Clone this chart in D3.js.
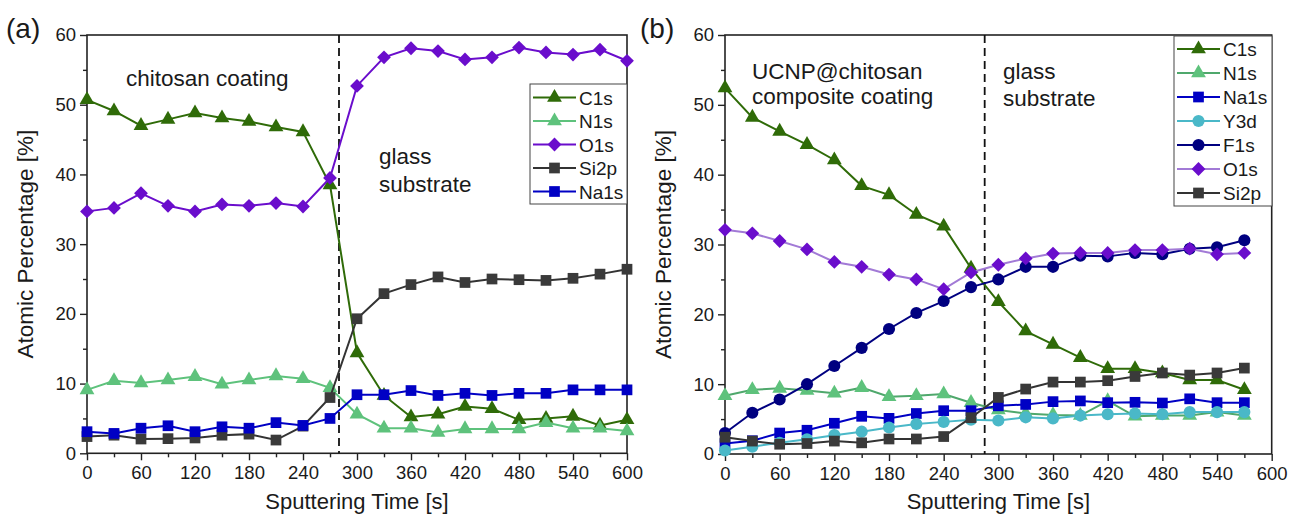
<!DOCTYPE html>
<html><head><meta charset="utf-8">
<script src="https://cdn.jsdelivr.net/npm/d3@7"></script>
<style>
html,body{margin:0;padding:0;background:#fff;}
svg text{font-family:"Liberation Sans",Arial,sans-serif;fill:#1a1a1a;}
</style></head>
<body><svg id="c" width="1289" height="515"></svg>
<script>
// ---------- data ----------
const timeA = [0,30,60,90,120,150,180,210,240,270,300,330,360,390,420,450,480,510,540,570,600];
const a_C1s  = [50.7,49.1,47.0,47.9,48.8,48.1,47.6,46.8,46.1,38.5,14.4,8.3,5.2,5.6,6.7,6.4,4.8,5.0,5.3,4.0,4.8];
const a_N1s  = [9.1,10.4,10.1,10.5,11.0,9.9,10.5,11.1,10.7,9.4,5.6,3.6,3.6,3.0,3.5,3.5,3.5,4.4,3.6,3.6,3.2];
const a_O1s  = [34.7,35.2,37.3,35.5,34.7,35.7,35.5,35.9,35.4,39.5,52.7,56.8,58.1,57.7,56.5,56.8,58.2,57.5,57.2,57.9,56.3];
const a_Si2p = [2.4,2.6,2.05,2.1,2.2,2.6,2.75,1.9,3.9,8.0,19.3,22.9,24.2,25.3,24.5,25.0,24.9,24.8,25.1,25.7,26.4];
const a_Na1s = [3.1,2.85,3.6,3.95,3.1,3.8,3.6,4.4,4.0,5.0,8.4,8.4,9.0,8.3,8.6,8.3,8.6,8.6,9.1,9.1,9.1];

const timeB = [0,30,60,90,120,150,180,210,240,270,300,330,360,390,420,450,480,510,540,570];
const b_C1s  = [52.4,48.2,46.2,44.3,42.1,38.4,37.1,34.3,32.6,26.6,21.8,17.6,15.7,13.8,12.2,12.2,11.6,10.6,10.6,9.2];
const b_N1s  = [8.35,9.2,9.4,9.1,8.7,9.5,8.2,8.35,8.6,7.35,6.3,5.8,5.6,5.5,7.6,5.4,5.5,5.5,6.0,5.5];
const b_Na1s = [1.5,1.9,3.0,3.4,4.4,5.4,5.1,5.8,6.2,6.2,6.9,7.1,7.5,7.6,7.35,7.4,7.3,7.9,7.35,7.35];
const b_Y3d  = [0.5,1.05,1.6,2.1,2.7,3.2,3.8,4.3,4.6,4.9,4.8,5.25,5.1,5.5,5.7,5.8,5.7,6.0,6.0,6.0];
const b_F1s  = [3.0,5.9,7.8,10.0,12.6,15.2,17.9,20.2,21.9,23.9,25.0,26.8,26.8,28.4,28.3,28.8,28.6,29.4,29.6,30.6];
const b_O1s  = [32.1,31.6,30.5,29.3,27.5,26.8,25.7,25.0,23.6,26.0,27.1,28.0,28.7,28.8,28.8,29.2,29.2,29.4,28.6,28.8];
const b_Si2p = [2.4,1.85,1.4,1.5,1.85,1.6,2.15,2.15,2.5,5.2,8.1,9.3,10.3,10.3,10.5,11.1,11.6,11.3,11.6,12.3];

const yTicks = [0,10,20,30,40,50,60];
const xTicks = [0,60,120,180,240,300,360,420,480,540,600];

// ---------- styles ----------
const sty = {
  C1s:  {line:"#2f6b08", fill:"#2f6b08", sym:"tri"},
  N1s:  {line:"#5ec27c", fill:"#5ec27c", sym:"tri"},
  O1s:  {line:"#6a0dcc", fill:"#6a0dcc", sym:"dia"},
  Si2p: {line:"#333333", fill:"#3a3a3a", sym:"sq"},
  Na1s: {line:"#0000c4", fill:"#0000c4", sym:"sq"},
  Y3d:  {line:"#4ab8c8", fill:"#4ab8c8", sym:"cir"},
  F1s:  {line:"#000080", fill:"#000080", sym:"cir"},
};
const styB = Object.assign({}, sty, {
  N1s: {line:"#4fa86c", fill:"#5ec27c", sym:"tri"},
  O1s: {line:"#a27ad6", fill:"#6a0dcc", sym:"dia"}
});

function symPath(kind){
  if(kind==="tri") return d3.symbol(d3.symbolTriangle, 95)();
  if(kind==="sq") return d3.symbol(d3.symbolSquare, 115)();
  if(kind==="cir") return d3.symbol(d3.symbolCircle, 115)();
  if(kind==="dia") return d3.symbol(d3.symbolSquare, 95)();
}

const svg = d3.select("#c");

function panel(cfg){
  const x = d3.scaleLinear().domain([0,600]).range([cfg.x0,cfg.x1]);
  const y = d3.scaleLinear().domain([0,60]).range([cfg.y0,cfg.y1]);
  const g = svg.append("g");

  // axes
  const ya = d3.axisLeft(y).tickValues(yTicks).tickSize(7).tickPadding(4).tickFormat(d3.format("d"));
  const yMinor = d3.axisLeft(y).tickValues(d3.range(5,60,10)).tickSize(4).tickFormat("");
  const xa = d3.axisBottom(x).tickValues(xTicks).tickSize(7).tickPadding(6).tickFormat(d3.format("d"));
  const xMinor = d3.axisBottom(x).tickValues(d3.range(30,600,60)).tickSize(4).tickFormat("");

  [ [ya,`translate(${cfg.x0},0)`], [yMinor,`translate(${cfg.x0},0)`],
    [xa,`translate(0,${cfg.y0})`], [xMinor,`translate(0,${cfg.y0})`] ].forEach(([ax,tr])=>{
    const a = g.append("g").attr("transform",tr).call(ax);
    a.select(".domain").remove();
    a.selectAll("line").attr("stroke","#222").attr("stroke-width",1.4);
    a.selectAll("text").attr("font-size","18.5px").attr("fill","#1a1a1a")
      .style("font-family","'Liberation Sans',Arial,sans-serif");
  });

  // frame
  g.append("rect").attr("x",cfg.x0).attr("y",cfg.y1).attr("width",cfg.x1-cfg.x0).attr("height",cfg.y0-cfg.y1)
    .attr("fill","none").attr("stroke","#222").attr("stroke-width",1.6);

  // dashed line
  g.append("line").attr("x1",x(cfg.dash)).attr("x2",x(cfg.dash)).attr("y1",y(60)).attr("y2",y(0))
    .attr("stroke","#111").attr("stroke-width",1.8).attr("stroke-dasharray","8,5");

  // series
  const line = d3.line().x(d=>x(d[0])).y(d=>y(d[1]));
  cfg.series.forEach(s=>{
    const st = cfg.styles[s.name];
    const pts = cfg.time.map((t,i)=>[t,s.vals[i]]);
    g.append("path").attr("d",line(pts)).attr("fill","none").attr("stroke",st.line).attr("stroke-width",2);
    g.selectAll(null).data(pts).join("path")
      .attr("d",symPath(st.sym))
      .attr("transform",d=>`translate(${x(d[0])},${y(d[1])})`+(st.sym==="dia"?" rotate(45)":""))
      .attr("fill",st.fill);
  });

  // legend
  const lg = g.append("g");
  lg.append("rect").attr("x",cfg.leg.x).attr("y",cfg.leg.y).attr("width",cfg.leg.w).attr("height",cfg.leg.h)
    .attr("fill","#fff").attr("stroke","#444").attr("stroke-width",1);
  cfg.legOrder.forEach((n,i)=>{
    const st = cfg.styles[n];
    const yy = cfg.leg.y + cfg.leg.first + i*cfg.leg.dy;
    const lx0 = cfg.leg.x+3, lx1 = cfg.leg.x+46;
    lg.append("line").attr("x1",lx0).attr("x2",lx1).attr("y1",yy).attr("y2",yy).attr("stroke",st.line).attr("stroke-width",2);
    lg.append("path").attr("d",symPath(st.sym))
      .attr("transform",`translate(${(lx0+lx1)/2},${yy})`+(st.sym==="dia"?" rotate(45)":"")).attr("fill",st.fill);
    lg.append("text").attr("x",lx1+3).attr("y",yy+7).attr("font-size","19px").text(n);
  });

  // axis titles
  g.append("text").attr("transform",`translate(${cfg.x0-54},${(cfg.y0+cfg.y1)/2}) rotate(-90)`)
    .attr("text-anchor","middle").attr("font-size","22.5px").text("Atomic Percentage [%]");
  g.append("text").attr("x",(cfg.x0+cfg.x1)/2).attr("y",509).attr("text-anchor","middle")
    .attr("font-size","22px").text("Sputtering Time [s]");

  // panel label
  g.append("text").attr("x",cfg.labX).attr("y",38).attr("font-size","28px").text(cfg.label);

  // annotations
  cfg.notes.forEach(n=>{
    g.append("text").attr("x",n[0]).attr("y",n[1]).attr("font-size","22.5px").text(n[2]);
  });
}

panel({
  x0:87, x1:627, y0:453.3, y1:35, dash:280, time:timeA, styles:sty,
  series:[{name:"C1s",vals:a_C1s},{name:"N1s",vals:a_N1s},{name:"O1s",vals:a_O1s},{name:"Si2p",vals:a_Si2p},{name:"Na1s",vals:a_Na1s}],
  legOrder:["C1s","N1s","O1s","Si2p","Na1s"],
  leg:{x:530,y:84,w:97,h:120,first:13.5,dy:23.5},
  label:"(a)", labX:6,
  notes:[[126,86,"chitosan coating"],[379,164,"glass"],[379,192,"substrate"]]
});

panel({
  x0:725, x1:1271.7, y0:454, y1:35, dash:285, time:timeB, styles:styB,
  series:[{name:"C1s",vals:b_C1s},{name:"N1s",vals:b_N1s},{name:"Na1s",vals:b_Na1s},{name:"Y3d",vals:b_Y3d},{name:"F1s",vals:b_F1s},{name:"O1s",vals:b_O1s},{name:"Si2p",vals:b_Si2p}],
  legOrder:["C1s","N1s","Na1s","Y3d","F1s","O1s","Si2p"],
  leg:{x:1174,y:36,w:98,h:170,first:13,dy:24},
  label:"(b)", labX:640,
  notes:[[752,79,"UCNP@chitosan"],[752,104,"composite coating"],[1003,79,"glass"],[1003,106,"substrate"]]
});
</script></body></html>
